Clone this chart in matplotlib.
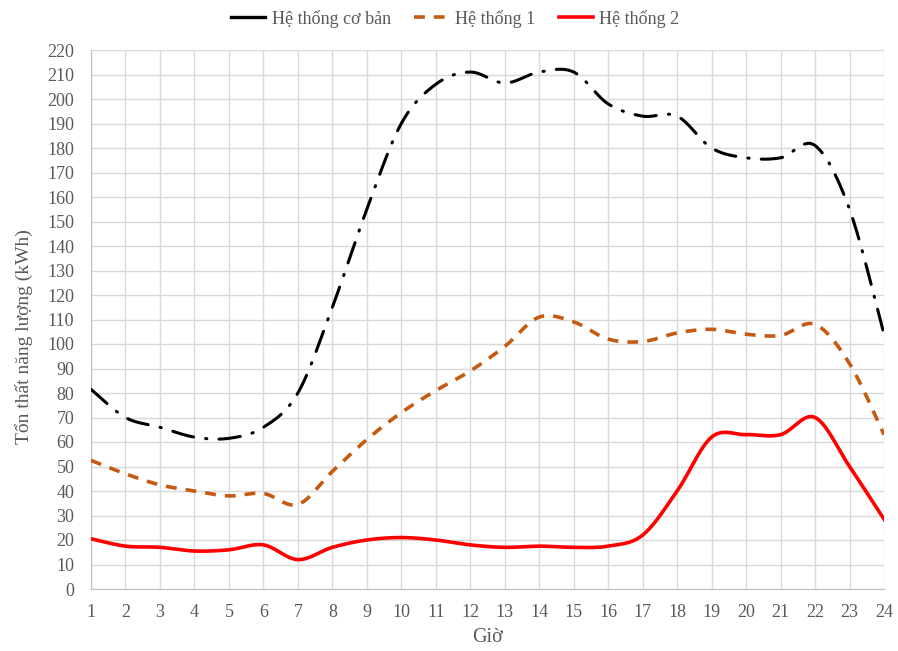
import numpy as np
import matplotlib
matplotlib.use("Agg")
import matplotlib.pyplot as plt
from matplotlib.lines import Line2D

plt.rcParams["font.family"] = ["Liberation Serif", "DejaVu Serif"]

hours = list(range(1, 25))
base = [81.5, 70, 66, 62, 61.5, 66, 80, 115, 155, 190, 206, 211,
        206.5, 211, 211, 198, 193, 193, 180, 176, 176, 181, 155, 104]
sys1 = [52.5, 47, 42.5, 40, 38, 39, 34.5, 48, 61, 72, 81, 89,
        99, 111, 109, 102, 101, 104.5, 106, 104, 103.5, 108, 92, 63]
sys2 = [20.5, 17.5, 17, 15.5, 16, 18, 12, 17, 20, 21, 20, 18,
        17, 17.5, 17, 17.5, 22, 40, 62, 63, 63, 70, 50, 28.5]
labels = ["Hệ thống cơ bản", "Hệ thống 1", "Hệ thống 2"]


def smooth(x, y, n=30):
    """Excel-like smoothed line (Catmull-Rom through the points)."""
    x = np.asarray(x, float)
    y = np.asarray(y, float)
    px = np.concatenate([[x[0]], x, [x[-1]]])
    py = np.concatenate([[y[0]], y, [y[-1]]])
    xs, ys = [], []
    t = np.linspace(0, 1, n, endpoint=False)
    for i in range(1, len(px) - 2):
        p0, p1, p2, p3 = (np.array([px[j], py[j]]) for j in range(i - 1, i + 3))
        c1 = p1 + (p2 - p0) / 6
        c2 = p2 - (p3 - p1) / 6
        b = ((1 - t) ** 3)[:, None] * p1 + (3 * (1 - t) ** 2 * t)[:, None] * c1 \
            + (3 * (1 - t) * t ** 2)[:, None] * c2 + (t ** 3)[:, None] * p2
        xs.append(b[:, 0])
        ys.append(b[:, 1])
    xs.append([x[-1]])
    ys.append([y[-1]])
    return np.concatenate(xs), np.concatenate(ys)


fig = plt.figure(figsize=(8.98, 6.51), dpi=100)
ax = fig.add_axes([91 / 898, 62 / 651, 793 / 898, 539 / 651])

xb, yb = smooth(hours, base)
ax.plot(xb, yb, color="black", lw=2.2, linestyle=(0, (7, 4.0, 0.4, 4.0)),
        dash_capstyle="round", label=labels[0], zorder=3)
x1, y1 = smooth(hours, sys1)
ax.plot(x1, y1, color="#C55A11", lw=2.6, linestyle=(0, (3, 2.5)),
        label=labels[1], zorder=3)
x2, y2 = smooth(hours, sys2)
ax.plot(x2, y2, color="#FF0000", lw=2.6, label=labels[2], zorder=3)

ax.set_xlim(1, 24)
ax.set_ylim(0, 220)
ax.set_xticks(hours)
ax.set_yticks(range(0, 221, 10))
ax.grid(True, color="#d9d9d9", lw=1)
ax.set_axisbelow(True)
for s in ["top", "right"]:
    ax.spines[s].set_visible(False)
for s in ["left", "bottom"]:
    ax.spines[s].set_color("#bfbfbf")
ax.tick_params(length=0, labelsize=13, colors="#595959")
ax.tick_params(axis="x", pad=11)
ax.tick_params(axis="y", pad=12)

ax.set_xlabel("Giờ", fontsize=14.5, color="#595959")
ax.set_ylabel("Tổn thất năng lượng (kWh)", fontsize=14, color="#595959")
ax.xaxis.set_label_coords(0.4994, -0.072)
ax.yaxis.set_label_coords(-0.073, 0.469)

handles, lbls = ax.get_legend_handles_labels()
handles[0] = Line2D([], [], color="black", lw=2.4)
fig.legend(handles, lbls, loc="upper center", bbox_to_anchor=(0.507, 1.01), ncol=3,
           frameon=False, fontsize=13, handlelength=1.9, columnspacing=1.3,
           handletextpad=0.35, labelcolor="#595959")

fig.savefig("out.png", dpi=100)
